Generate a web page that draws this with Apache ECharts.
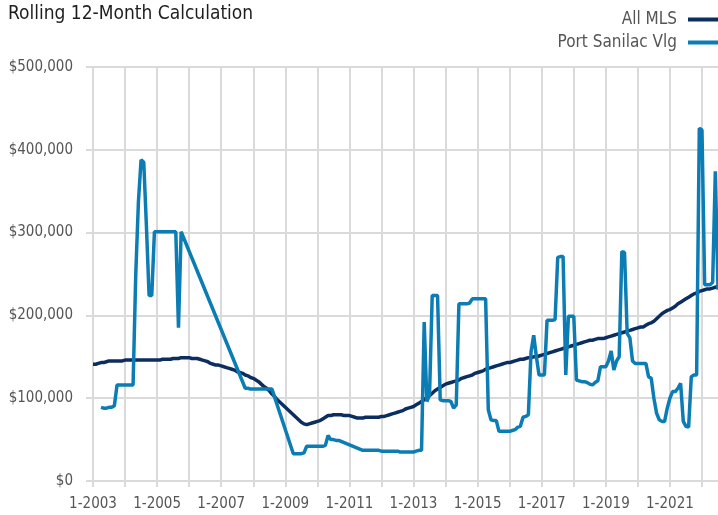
<!DOCTYPE html>
<html>
<head>
<meta charset="utf-8">
<title>Rolling 12-Month Calculation</title>
<script src="https://cdn.jsdelivr.net/npm/echarts@6/dist/echarts.min.js"></script>
<style>
  html, body { margin: 0; padding: 0; background: #fff; }
  #myChart { width: 718px; height: 515px; }
</style>
</head>
<body>
<div id="myChart"></div>
<script>
// monthly points, 1-2003 .. 7-2022
var startYear = 2003;
var monthCount = 235;

// All MLS, rolling 12-month median, in $1000 (one row per year)
var allMls = [
  141,141,142,143,143,144,145,145,145,145,145,145,
  146,146,146,146,146,146,146,146,146,146,146,146,
  146,146,147,147,147,147,148,148,148,149,149,149,
  149,148,148,148,147,146,145,144,142,141,140,140,
  139,138,137,136,135,134,132,131,130,128,127,125,
  124,122,120,117,114,112,109,105,102,98,95,92,
  89,86,83,80,77,74,71,69,68,69,70,71,
  72,73,75,77,79,79,80,80,80,80,79,79,
  79,78,77,76,76,76,77,77,77,77,77,77,
  78,78,79,80,81,82,83,84,85,87,88,89,
  90,92,94,96,98,101,103,106,109,111,113,115,
  117,118,119,120,121,122,124,125,126,127,128,130,
  131,132,133,135,136,137,138,139,140,141,142,143,
  143,144,145,146,147,147,148,149,149,150,150,151,
  152,153,154,155,156,157,158,159,160,161,162,163,
  164,165,166,167,168,169,170,170,171,172,172,172,
  173,174,175,176,177,178,179,180,181,182,183,184,
  185,186,186,188,190,191,193,196,199,202,204,206,
  207,209,211,214,216,218,220,222,224,226,227,229,
  230,231,232,232,233,234,235
];

// Port Sanilac Vlg, in $1000, null = no sale that month
var portSanilac = [
  null,null,null,89,88,88,89,89,91,116,116,116,
  116,116,116,116,249,337,388,385,308,224,224,301,
  301,301,301,301,301,301,301,301,185,301,null,null,
  null,null,null,null,null,null,null,null,null,null,null,null,
  null,null,null,null,null,null,null,null,null,112,112,111,
  111,111,111,111,111,111,111,111,null,null,null,null,
  null,null,null,33,33,33,33,34,42,42,42,42,
  42,42,42,43,55,50,50,49,49,null,null,null,
  null,null,null,null,null,37,37,37,37,37,37,37,
  36,36,36,36,36,36,36,35,35,35,35,35,
  35,36,37,37,192,96,104,224,224,224,98,97,
  97,97,96,88,92,214,214,214,214,215,220,220,
  220,220,220,220,86,74,73,73,60,60,60,60,
  60,61,62,65,66,77,78,80,156,176,150,128,
  128,128,194,194,194,195,270,271,271,128,199,199,
  199,122,121,120,120,119,117,116,119,121,138,138,
  138,145,157,134,145,150,277,276,178,173,145,142,
  142,142,142,142,126,124,100,82,74,72,72,88,
  100,108,108,112,118,72,66,65,126,128,128,426,
  424,237,237,237,240,374,231
];

var months = [];
for (var i = 0; i < monthCount; i++) {
  months.push((i % 12 + 1) + '-' + (startYear + Math.floor(i / 12)));
}

function toDollars(arr) {
  return arr.map(function (v) { return v == null ? null : v * 1000; });
}

var font = '"Liberation Sans Narrow", "DejaVu Sans Condensed", sans-serif';
var gridColor = '#dadada';

var myChart = echarts.init(document.getElementById('myChart'));
myChart.setOption({
  animation: false,
  textStyle: { fontFamily: font },
  title: {
    text: 'Rolling 12-Month Calculation',
    left: 3,
    top: 0,
    textStyle: { fontFamily: font, fontSize: 19, fontWeight: 'normal', color: '#1e1e1e' }
  },
  legend: {
    orient: 'vertical',
    right: 0,
    top: 11,
    padding: 0,
    align: 'right',
    icon: 'rect',
    itemWidth: 30,
    itemHeight: 4,
    itemGap: 6,
    textStyle: { fontFamily: font, fontSize: 17, color: '#555', lineHeight: 17, padding: [0, 6, 0, 0] },
    data: ['All MLS', 'Port Sanilac Vlg']
  },
  grid: { left: 93, right: 0, top: 67, bottom: 34 },
  xAxis: {
    type: 'category',
    boundaryGap: false,
    data: months,
    axisLine: { lineStyle: { color: gridColor, width: 2 } },
    axisTick: {
      length: 6,
      interval: function (idx) { return idx % 12 === 0; },
      lineStyle: { color: gridColor, width: 2 }
    },
    axisLabel: {
      interval: function (idx) { return idx % 24 === 0; },
      margin: 16,
      fontFamily: font,
      fontSize: 15,
      color: '#555'
    },
    splitLine: {
      show: true,
      interval: function (idx) { return idx % 12 === 0; },
      lineStyle: { color: gridColor, width: 2 }
    }
  },
  yAxis: {
    type: 'value',
    min: 0,
    max: 500000,
    interval: 100000,
    axisLine: { show: true, lineStyle: { color: gridColor, width: 2 } },
    axisTick: { show: true, length: 7, lineStyle: { color: gridColor, width: 2 } },
    axisLabel: {
      margin: 20,
      fontFamily: font,
      fontSize: 15,
      color: '#555',
      formatter: function (v) { return '$' + v.toLocaleString('en-US'); }
    },
    splitLine: { lineStyle: { color: gridColor, width: 2 } }
  },
  series: [
    {
      name: 'All MLS',
      type: 'line',
      data: toDollars(allMls),
      showSymbol: false,
      color: '#0c2d5f',
      lineStyle: { width: 3.5, color: '#0c2d5f' }
    },
    {
      name: 'Port Sanilac Vlg',
      type: 'line',
      data: toDollars(portSanilac),
      connectNulls: true,
      showSymbol: false,
      color: '#0b7db4',
      lineStyle: { width: 3.5, color: '#0b7db4' }
    }
  ]
});
</script>
</body>
</html>
